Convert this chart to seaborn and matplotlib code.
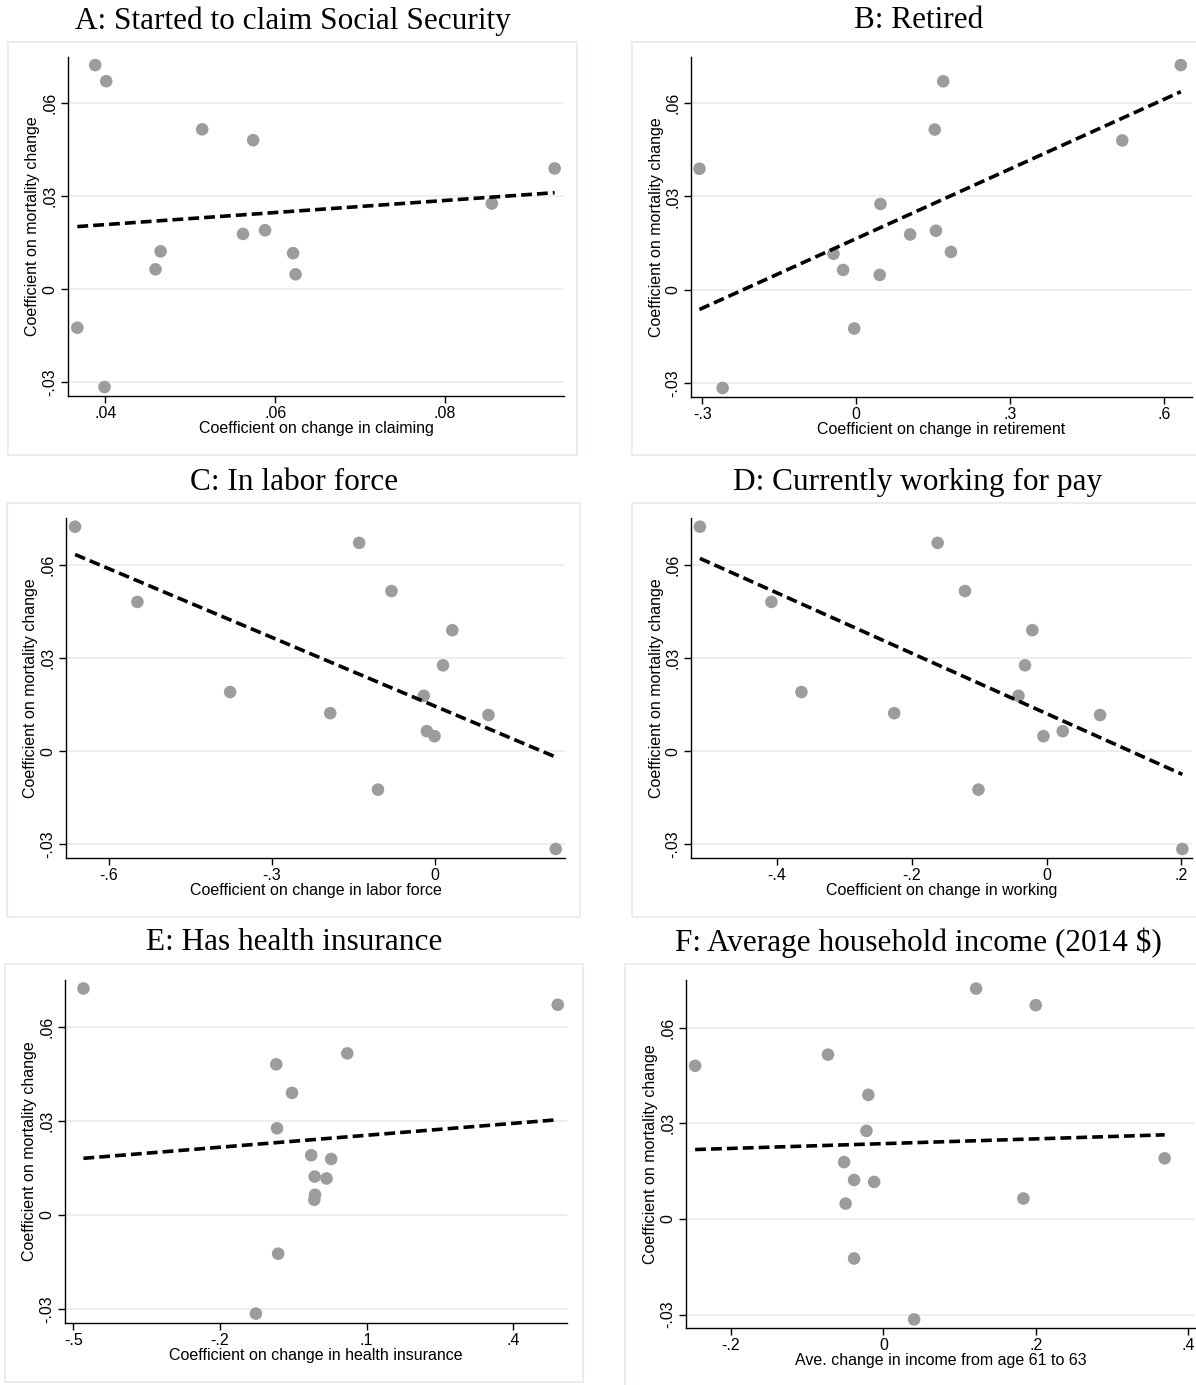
import numpy as np
import pandas as pd
import matplotlib
matplotlib.use("Agg")
import matplotlib.pyplot as plt
from matplotlib.patches import Rectangle
import seaborn as sns

# ---- data ----
mortality = [0.0722, 0.0670, 0.0515, 0.0480, 0.0389, 0.0276, 0.0190,
             0.0178, 0.0122, 0.0116, 0.0064, 0.0048, -0.0124, -0.0315]

claiming = [0.0388, 0.0401, 0.0514, 0.0574, 0.0929, 0.0855, 0.0588,
            0.0562, 0.0465, 0.0621, 0.0459, 0.0624, 0.0367, 0.0399]
retired = [0.6327, 0.1696, 0.1531, 0.5186, -0.3055, 0.0473, 0.1554,
           0.1051, 0.1846, -0.0443, -0.0255, 0.0458, -0.0038, -0.2604]
labor_force = [-0.6623, -0.1395, -0.0800, -0.5476, 0.0319, 0.0149, -0.3769,
               -0.0205, -0.1927, 0.0985, -0.0149, -0.0007, -0.1048, 0.2224]
working = [-0.5138, -0.1614, -0.1209, -0.4078, -0.0211, -0.0319, -0.3633,
           -0.0416, -0.2258, 0.0793, 0.0240, -0.0046, -0.1009, 0.2013]
health_ins = [-0.4796, 0.4911, 0.0604, -0.0850, -0.0528, -0.0834, -0.0135,
              0.0274, -0.0064, 0.0180, -0.0056, -0.0072, -0.0811, -0.1267]
income = [0.1217, 0.2000, -0.0727, -0.2470, -0.0197, -0.0222, 0.3692,
          -0.0515, -0.0384, -0.0121, 0.1838, -0.0495, -0.0384, 0.0404]

titles = ["A: Started to claim Social Security", "B: Retired",
          "C: In labor force", "D: Currently working for pay",
          "E: Has health insurance", "F: Average household income (2014 $)"]
xlabels = ["Coefficient on change in claiming", "Coefficient on change in retirement",
           "Coefficient on change in labor force", "Coefficient on change in working",
           "Coefficient on change in health insurance", "Ave. change in income from age 61 to 63"]
ylabel = "Coefficient on mortality change"

xticks = [[0.04, 0.06, 0.08], [-0.3, 0, 0.3, 0.6], [-0.6, -0.3, 0],
          [-0.4, -0.2, 0, 0.2], [-0.5, -0.2, 0.1, 0.4], [-0.2, 0, 0.2, 0.4]]
xticklabels = [[".04", ".06", ".08"], ["-.3", "0", ".3", ".6"], ["-.6", "-.3", "0"],
               ["-.4", "-.2", "0", ".2"], ["-.5", "-.2", ".1", ".4"], ["-.2", "0", ".2", ".4"]]
yticks = [-0.03, 0, 0.03, 0.06]
yticklabels = ["-.03", "0", ".03", ".06"]

xs = [claiming, retired, labor_force, working, health_ins, income]

# ---- layout (pixels) ----
W, H = 1196, 1385
axes_px = [  # left, right, top, bottom
    (68, 564, 57, 396), (691, 1192, 57, 397),
    (66, 565, 518, 858), (691, 1192, 518, 858),
    (65, 567, 980, 1323), (686, 1195, 980, 1328)]
box_px = [
    (8, 577, 42, 455), (632, 1210, 42, 455),
    (7, 580, 503, 917), (632, 1210, 503, 917),
    (5, 583, 964, 1382), (625, 1210, 964, 1395)]
title_px = [(293, 21), (919, 21), (294, 482), (918, 482), (294, 943), (918, 943)]
xlims = [(0.0356, 0.0940), (-0.322, 0.6545), (-0.679, 0.2394),
         (-0.527, 0.2156), (-0.5173, 0.510), (-0.259, 0.409)]
ylims = [(-0.0344, 0.0748), (-0.0344, 0.0748), (-0.0344, 0.0750),
         (-0.0344, 0.0750), (-0.0345, 0.0749), (-0.0342, 0.0749)]

sns.set_theme(style="white")
plt.rcParams["font.family"] = ["Liberation Sans", "DejaVu Sans"]

fig = plt.figure(figsize=(W / 100, H / 100), dpi=100)
fig.patch.set_facecolor("white")

grid_col = "#e4ecee"
box_col = "#e6ecee"
pt_col = "#9c9c9c"

for i in range(6):
    bl, br, bt, bb = box_px[i]
    fig.patches.append(Rectangle((bl / W, 1 - bb / H), (br - bl) / W, (bb - bt) / H,
                                 transform=fig.transFigure, fill=False,
                                 edgecolor=box_col, linewidth=1.3, zorder=0))
    L, R, T, B = axes_px[i]
    ax = fig.add_axes([L / W, 1 - B / H, (R - L) / W, (B - T) / H])
    df = pd.DataFrame({"x": xs[i], "y": mortality})
    for yv in yticks:
        ax.axhline(yv, color=grid_col, lw=1.1, zorder=0)
    sns.regplot(data=df, x="x", y="y", ax=ax, ci=None,
                scatter_kws=dict(s=82, color=pt_col, edgecolor="none", alpha=1, zorder=3),
                line_kws=dict(color="black", lw=2.6, dashes=(3.0, 1.4), zorder=4))
    ax.set_xlim(*xlims[i])
    ax.set_ylim(*ylims[i])
    ax.set_xticks(xticks[i])
    ax.set_xticklabels(xticklabels[i])
    ax.set_yticks(yticks)
    ax.set_yticklabels(yticklabels, rotation=90, va="center")
    ax.grid(False)
    for s in ["top", "right"]:
        ax.spines[s].set_visible(False)
    for s in ["left", "bottom"]:
        ax.spines[s].set_color("black")
        ax.spines[s].set_linewidth(1.0)
    ax.tick_params(axis="both", which="major", direction="out", length=5,
                   width=1, color="black", labelsize=11.5, labelcolor="black",
                   left=True, bottom=True)
    ax.tick_params(axis="x", pad=2)
    ax.tick_params(axis="y", pad=2.5)
    ax.set_xlabel(xlabels[i], fontsize=11.5, labelpad=0.5, color="black")
    ax.set_ylabel(ylabel, fontsize=11.5, labelpad=1.5, color="black")
    ax.set_facecolor("none")
    tx, ty = title_px[i]
    fig.text(tx / W, 1 - ty / H, titles[i], ha="center", va="center",
             fontsize=22.5, family=["Liberation Serif", "DejaVu Serif"], color="black")

fig.savefig("out.png", dpi=100, facecolor="white")
